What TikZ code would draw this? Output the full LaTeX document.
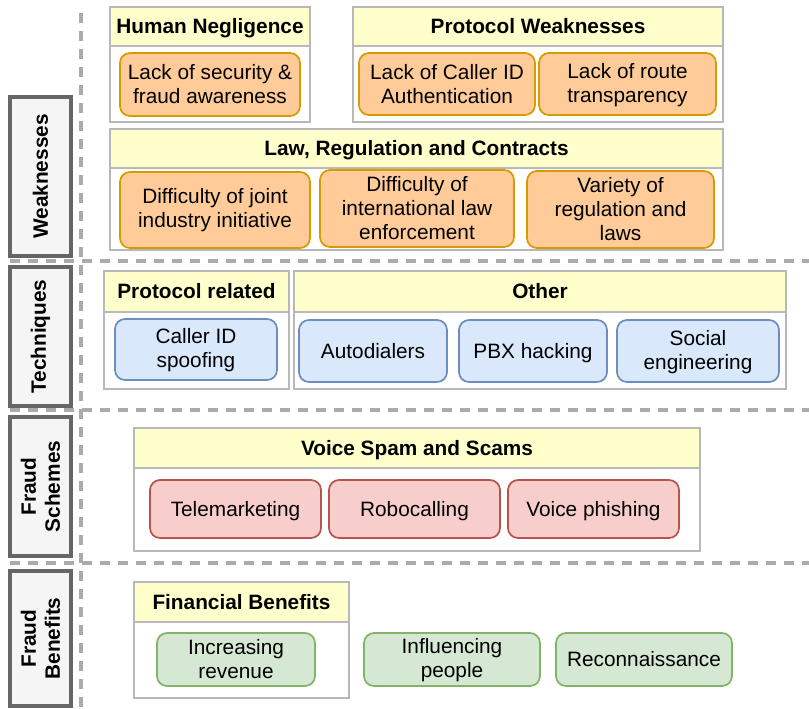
\documentclass[tikz,border=0pt]{standalone}
\usepackage{fontspec}
\setmainfont{Liberation Sans}
\definecolor{headfill}{HTML}{FFFFCC}
\definecolor{groupline}{HTML}{B8B8B8}
\definecolor{sidefill}{HTML}{F5F5F5}
\definecolor{sideline}{HTML}{666666}
\definecolor{dashgray}{HTML}{ABABAB}
\definecolor{orfill}{HTML}{FFCC99}
\definecolor{orline}{HTML}{D79B00}
\definecolor{blfill}{HTML}{DAE8FC}
\definecolor{blline}{HTML}{6C8EBF}
\definecolor{rdfill}{HTML}{F8CECC}
\definecolor{rdline}{HTML}{B85450}
\definecolor{gnfill}{HTML}{D5E8D4}
\definecolor{gnline}{HTML}{82B366}
\tikzset{
  txt/.style={font=\fontsize{15.6}{18}\selectfont, align=center, inner sep=0pt},
  oneline/.style={txt, text height=14.1pt, text depth=3.3pt},
  headtxt/.style={oneline, font=\fontsize{15.6}{18}\selectfont\bfseries},
  item/.style={rounded corners=7.5pt, line width=1.3pt},
  oritem/.style={item, draw=orline, fill=orfill},
  blitem/.style={item, draw=blline, fill=blfill},
  rditem/.style={item, draw=rdline, fill=rdfill},
  gnitem/.style={item, draw=gnline, fill=gnfill},
  grouphead/.style={draw=groupline, fill=headfill, line width=1.1pt},
  groupbody/.style={draw=groupline, fill=white, line width=1.1pt},
  sidebox/.style={draw=sideline, fill=sidefill, line width=2.3pt},
  sidelabel/.style={txt, font=\fontsize{15.6}{18}\selectfont\bfseries, rotate=90},
  divider/.style={draw=dashgray, line width=2.4pt, dash pattern=on 7.5pt off 6pt}
}

\begin{document}
\begin{tikzpicture}[x=0.75pt, y=-0.75pt]
			%%%%% START %%%%%
			\useasboundingbox (0,0) rectangle (809,708);
			
			% section dividers
			\draw[divider] (81,13) -- (81,708);
			\draw[divider] (10,261) -- (809,261);
			\draw[divider] (10,410) -- (809,410);
			\draw[divider] (10,563) -- (809,563);
			
			% side labels
			\draw[sidebox] (10,97) rectangle (71,256);
			\node[sidelabel] (weak) at (40.5,176.5) {Weaknesses};
			\draw[sidebox] (10,267) rectangle (71,406);
			\node[sidelabel] (tech) at (40.5,336.5) {Techniques};
			\draw[sidebox] (10,417) rectangle (71,556);
			\node[sidelabel] (schemes) at (40.5,486.5) {Fraud\\Schemes};
			\draw[sidebox] (10,571) rectangle (71,706);
			\node[sidelabel] (benefits) at (40.5,638.5) {Fraud\\Benefits};
			
			% weaknesses
			\draw[groupbody] (110,46) rectangle (310,122);
			\draw[grouphead] (110,7) rectangle (310,46);
			\node[headtxt] (human) at (210,26.5) {Human Negligence};
			\draw[oritem] (120,53) rectangle (300,116);
			\node[txt] (secaware) at (210,84.5) {Lack of security \&\\fraud awareness};
			
			\draw[groupbody] (353,46) rectangle (723,122);
			\draw[grouphead] (353,7) rectangle (723,46);
			\node[headtxt] (proto) at (538,26.5) {Protocol Weaknesses};
			\draw[oritem] (359,53) rectangle (535,115);
			\node[txt] (callerauth) at (447,84) {Lack of Caller ID\\Authentication};
			\draw[oritem] (539,53) rectangle (716,115);
			\node[txt] (route) at (627.5,85) {Lack of route\\transparency};
			
			\draw[groupbody] (110,168) rectangle (723,250);
			\draw[grouphead] (110,129) rectangle (723,168);
			\node[headtxt] (law) at (416.5,148.5) {Law, Regulation and Contracts};
			\draw[oritem] (120,172) rectangle (310,248);
			\node[txt] (joint) at (215,210) {Difficulty of joint\\industry initiative};
			\draw[oritem] (320,170) rectangle (514,247);
			\node[txt] (intl) at (417,208.5) {Difficulty of\\international law\\enforcement};
			\draw[oritem] (527,171) rectangle (714,248);
			\node[txt] (variety) at (620.5,209.5) {Variety of\\regulation and\\laws};
			
			% techniques
			\draw[groupbody] (104,312) rectangle (289,389);
			\draw[grouphead] (104,271) rectangle (289,312);
			\node[headtxt] (related) at (196.5,291.5) {Protocol related};
			\draw[blitem] (115,319) rectangle (277,380);
			\node[txt] (spoof) at (196,350.5) {Caller ID\\spoofing};
			
			\draw[groupbody] (294,312) rectangle (786,389);
			\draw[grouphead] (294,271) rectangle (786,312);
			\node[headtxt] (other) at (540,291.5) {Other};
			\draw[blitem] (299,320) rectangle (447,382);
			\node[oneline] (autodial) at (373,351) {Autodialers};
			\draw[blitem] (459,320) rectangle (607,382);
			\node[oneline] (pbx) at (533,351) {PBX hacking};
			\draw[blitem] (617,320) rectangle (779,382);
			\node[txt] (social) at (698,352) {Social\\engineering};
			
			% fraud schemes
			\draw[groupbody] (134,468) rectangle (700,551);
			\draw[grouphead] (134,428) rectangle (700,468);
			\node[headtxt] (spam) at (417,448) {Voice Spam and Scams};
			\draw[rditem] (150,480) rectangle (321,538);
			\node[oneline] (telemkt) at (235.5,509) {Telemarketing};
			\draw[rditem] (329,480) rectangle (500,538);
			\node[oneline] (robo) at (414.5,509) {Robocalling};
			\draw[rditem] (508,480) rectangle (679,538);
			\node[oneline] (vishing) at (593.5,509) {Voice phishing};
			
			% fraud benefits
			\draw[groupbody] (134,622) rectangle (349,698);
			\draw[grouphead] (134,582) rectangle (349,622);
			\node[headtxt] (fin) at (241.5,602) {Financial Benefits};
			\draw[gnitem] (157,633) rectangle (315,686);
			\node[txt] (revenue) at (236,659.5) {Increasing\\revenue};
			\draw[gnitem] (364,633) rectangle (540,686);
			\node[txt] (influence) at (452,660.5) {Influencing\\people};
			\draw[gnitem] (556,633) rectangle (732,686);
			\node[oneline] (recon) at (644,659.5) {Reconnaissance};
			
			%%%%% END %%%%%
		\end{tikzpicture}
\end{document}
